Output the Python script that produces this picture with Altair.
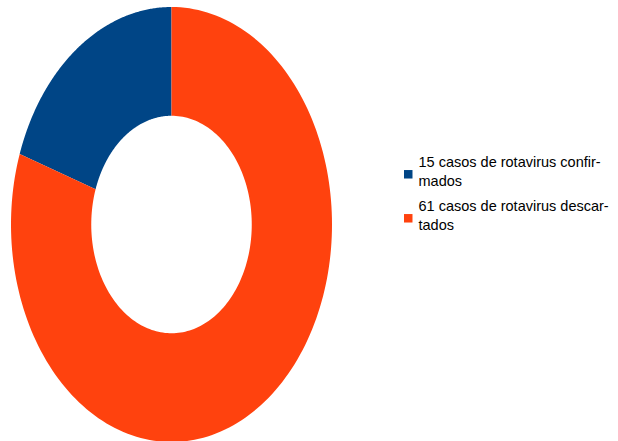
import altair as alt
import pandas as pd

categories = ["15 casos de rotavirus confir-|mados", "61 casos de rotavirus descar-|tados"]
counts = [15, 61]
colors = ["#004586", "#ff420e"]
order = [0, 1]

df = pd.DataFrame({"categoria": categories, "casos": counts, "orden": order})

N = 180
INNER = 0.5

chart = (
    alt.Chart(df)
    .transform_window(cum="sum(casos)", sort=[alt.SortField("orden")])
    .transform_joinaggregate(total="sum(casos)")
    .transform_calculate(
        a0="2*PI*(datum.cum - datum.casos)/datum.total",
        a1="2*PI*datum.cum/datum.total",
        k=f"sequence(0, {2 * N + 2})",
    )
    .transform_flatten(["k"])
    .transform_calculate(
        t=f"datum.k <= {N} ? datum.k/{N} : 1 - (datum.k-{N + 1})/{N}",
        r=f"datum.k <= {N} ? 1 : {INNER}",
    )
    .transform_calculate(ang="datum.a0 + (datum.a1-datum.a0)*datum.t")
    .transform_calculate(
        px="-datum.r*sin(datum.ang)",
        py="datum.r*cos(datum.ang)",
    )
    .mark_line(filled=True, strokeWidth=0.5, interpolate="linear")
    .encode(
        x=alt.X("px:Q", scale=alt.Scale(domain=[-1, 1], nice=False, zero=False), axis=None),
        y=alt.Y("py:Q", scale=alt.Scale(domain=[-1, 1], nice=False, zero=False), axis=None),
        color=alt.Color(
            "categoria:N",
            scale=alt.Scale(domain=categories, range=colors),
            legend=alt.Legend(
                title=None,
                orient="none",
                legendX=390,
                legendY=149,
                padding=0,
                symbolType="M-1,1.6L1,1.6L1,3.6L-1,3.6Z",
                symbolSize=72,
                symbolStrokeWidth=0,
                labelFont="Liberation Sans",
                labelFontSize=14.5,
                labelColor="#000000",
                labelOffset=3,
                labelLimit=0,
                rowPadding=10,
                labelExpr="split(datum.label, '|')",
            ),
        ),
        detail="categoria:N",
        order=alt.Order("k:Q"),
    )
    .properties(
        width=321,
        height=435,
        autosize=alt.AutoSizeParams(type="none"),
        padding={"left": 11, "top": 7, "right": 286, "bottom": 0},
    )
    .configure(style={"guide-label": {"lineHeight": 19}})
    .configure_view(stroke=None)
)

chart.save("out.html", embed_options={"renderer": "svg", "actions": False})
